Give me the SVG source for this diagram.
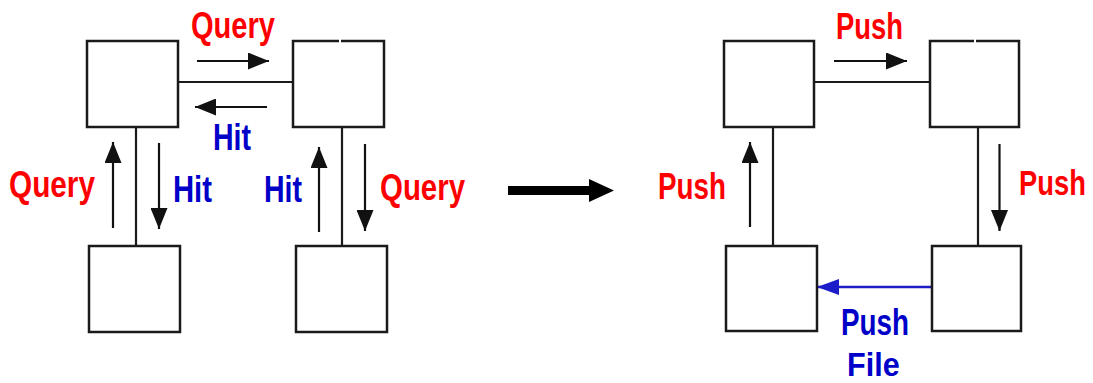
<svg xmlns="http://www.w3.org/2000/svg" width="1093" height="383" viewBox="0 0 1093 383">
  <style>
    .box { fill: #ffffff; stroke: #1a1a1a; stroke-width: 2.5; }
    .link { fill: none; stroke: #1a1a1a; stroke-width: 2.2; }
    .arr { fill: none; stroke: #111111; stroke-width: 2.2; marker-end: url(#head); }
    .arrb { fill: none; stroke: #1c1cc8; stroke-width: 2.4; marker-end: url(#headb); }
    .lbl { font-family: "Liberation Sans", Arial, sans-serif; font-weight: bold; font-size: 36px; }
    .red { fill: #ff0000; }
    .blue { fill: #0000c8; }
  </style>
  <defs>
    <marker id="head" markerUnits="userSpaceOnUse" markerWidth="21" markerHeight="17" viewBox="0 0 21 17" refX="21" refY="8.5" orient="auto">
      <path d="M0,0 L21,8.5 L0,17 z" fill="#111111"/>
    </marker>
    <marker id="headb" markerUnits="userSpaceOnUse" markerWidth="22" markerHeight="16" viewBox="0 0 22 16" refX="22" refY="8" orient="auto">
      <path d="M0,0 L22,8 L0,16 z" fill="#1c1cc8"/>
    </marker>
  </defs>

  <rect width="1093" height="383" fill="#ffffff"/>

  <!-- links between peers -->
  <g id="connectors">
    <!-- query network -->
    <line class="link" x1="178" y1="82" x2="293" y2="82"/>
    <line class="link" x1="136" y1="127" x2="136" y2="246"/>
    <line class="link" x1="342" y1="127" x2="342" y2="246"/>
    <!-- push network -->
    <line class="link" x1="814" y1="82" x2="930" y2="82"/>
    <line class="link" x1="773" y1="127" x2="773" y2="246"/>
    <line class="link" x1="978" y1="127" x2="978" y2="246"/>

    <!-- message arrows, query network -->
    <line class="arr" x1="197" y1="61" x2="269" y2="61"/>
    <line class="arr" x1="267" y1="107" x2="195" y2="107"/>
    <line class="arr" x1="113" y1="228" x2="113" y2="142"/>
    <line class="arr" x1="159" y1="143" x2="159" y2="229"/>
    <line class="arr" x1="319" y1="232" x2="319" y2="147"/>
    <line class="arr" x1="365" y1="144" x2="365" y2="231"/>

    <!-- message arrows, push network -->
    <line class="arr" x1="834" y1="61" x2="907" y2="61"/>
    <line class="arr" x1="750" y1="227" x2="750" y2="142"/>
    <line class="arr" x1="999.5" y1="144" x2="999.5" y2="231"/>
    <line class="arrb" x1="932" y1="287" x2="817" y2="287"/>

    <!-- transition arrow between the two networks -->
    <g id="transition">
      <rect x="508" y="186" width="84" height="9" fill="#000000"/>
      <path d="M589,179 L614,190.5 L589,202 z" fill="#000000"/>
    </g>
  </g>

  <!-- query network peers -->
  <g id="q-top-left"><rect class="box" x="87" y="41" width="91" height="86"/></g>
  <g id="q-top-right">
    <path class="box" d="M339,41 L293,41 L293,127 L384,127 L384,41 L341,41"/>
  </g>
  <g id="q-bottom-left"><rect class="box" x="89" y="246" width="91" height="86"/></g>
  <g id="q-bottom-right"><rect class="box" x="296" y="246" width="91" height="86"/></g>

  <!-- push network peers -->
  <g id="p-top-left"><rect class="box" x="724" y="41" width="90" height="86"/></g>
  <g id="p-top-right">
    <path class="box" d="M974,41 L930,41 L930,127 L1019,127 L1019,41 L976,41"/>
  </g>
  <g id="p-bottom-left"><rect class="box" x="726" y="246" width="91" height="85"/></g>
  <g id="p-bottom-right"><rect class="box" x="932" y="246" width="89" height="85"/></g>

  <!-- labels -->
  <g id="labels">
    <text class="lbl red" x="191" y="38" textLength="84" lengthAdjust="spacingAndGlyphs">Query</text>
    <text class="lbl blue" x="213" y="149.5" textLength="38" lengthAdjust="spacingAndGlyphs">Hit</text>
    <text class="lbl red" x="9" y="197" textLength="86" lengthAdjust="spacingAndGlyphs">Query</text>
    <text class="lbl blue" x="173" y="201.5" textLength="39" lengthAdjust="spacingAndGlyphs">Hit</text>
    <text class="lbl blue" x="264" y="201.5" textLength="38" lengthAdjust="spacingAndGlyphs">Hit</text>
    <text class="lbl red" x="380" y="199.5" textLength="85" lengthAdjust="spacingAndGlyphs">Query</text>

    <text class="lbl red" x="836" y="38.5" textLength="67" lengthAdjust="spacingAndGlyphs">Push</text>
    <text class="lbl red" x="658" y="199" textLength="68" lengthAdjust="spacingAndGlyphs">Push</text>
    <!-- narrowed by scaling so the label stays inside the right edge -->
    <text class="lbl red" transform="translate(1019,194.5) scale(0.76,1)">Push</text>
    <text class="lbl blue" x="841" y="335" textLength="68" lengthAdjust="spacingAndGlyphs">Push</text>
    <!-- second line of the file label, kept clear of the bottom edge -->
    <text class="lbl blue" transform="translate(847,375.5) scale(0.85,0.93)">File</text>
  </g>
</svg>
